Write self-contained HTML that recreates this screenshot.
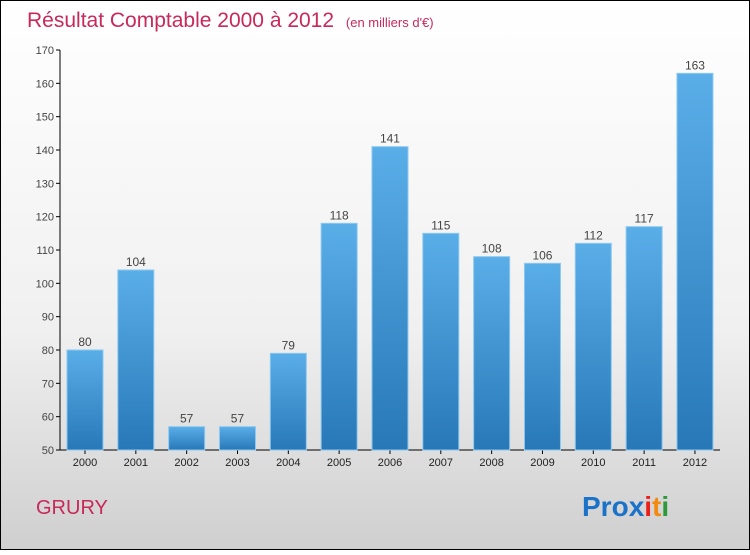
<!DOCTYPE html>
<html><head><meta charset="utf-8"><style>
body{margin:0;width:750px;height:550px;overflow:hidden;font-family:"Liberation Sans",sans-serif}
</style></head><body>
<svg id="chart" width="750" height="550" xmlns="http://www.w3.org/2000/svg">
<defs>
<linearGradient id="bg" x1="0" y1="0" x2="0" y2="1"><stop offset="0" stop-color="#ffffff"/><stop offset="0.6" stop-color="#f0f0f0"/><stop offset="1" stop-color="#cfcfcf"/></linearGradient>
<linearGradient id="bar" x1="0" y1="0" x2="0" y2="1"><stop offset="0" stop-color="#5aaee8"/><stop offset="1" stop-color="#2878b8"/></linearGradient>
</defs>
<rect x="0.5" y="0.5" width="749" height="549" fill="url(#bg)" stroke="#000"/>
<text x="27" y="27" font-size="21" fill="#c8285a">Résultat Comptable 2000 à 2012 <tspan font-size="13" dx="6">(en milliers d'€)</tspan></text>
<g id="axes"></g>
<g id="bars"></g>
<text x="36" y="514" font-size="20" fill="#c8285a">GRURY</text>
<text x="582" y="516" font-size="28" font-weight="bold"><tspan fill="#1a73c8">Pro</tspan><tspan fill="#1a73c8">x</tspan><tspan fill="#e8221b">i</tspan><tspan fill="#f08a10">t</tspan><tspan fill="#2a9a3a">i</tspan></text>
</svg>
<script>
const categories=["2000","2001","2002","2003","2004","2005","2006","2007","2008","2009","2010","2011","2012"];
const values=[80,104,57,57,79,118,141,115,108,106,112,117,163];
const yTicks=[50,60,70,80,90,100,110,120,130,140,150,160,170];
const NS="http://www.w3.org/2000/svg";
const y=v=>450-(v-50)*400/120;
const x=i=>85+i*50.83;
function mk(t,a,p){const e=document.createElementNS(NS,t);for(const k in a)e.setAttribute(k,a[k]);p.appendChild(e);return e;}
const ax=document.getElementById('axes'),bg=document.getElementById('bars');
const yl=mk('line',{x1:60,y1:50,x2:60,y2:450,stroke:'#000'},ax);


const xl=mk('line',{x1:60,y1:450,x2:720,y2:450,stroke:'#000'},ax);


yTicks.forEach(t=>{
 mk('line',{x1:56,y1:y(t),x2:60,y2:y(t),stroke:'#000'},ax);
 const tx=mk('text',{x:54,y:y(t)+4,'text-anchor':'end','font-size':11,fill:'#444'},ax);
 tx.textContent=t;
 
 
});
values.forEach((v,i)=>{
 const r=mk('rect',{x:x(i)-18,y:y(v),width:36,height:450-y(v),fill:'url(#bar)',stroke:'#8cc8f0','stroke-width':1},bg);
 
 
 const vl=mk('text',{x:x(i),y:y(v)-4,'text-anchor':'middle','font-size':12,fill:'#444'},bg);
 vl.textContent=v;
 
 
 mk('line',{x1:x(i),y1:450,x2:x(i),y2:454,stroke:'#000'},ax);
 const cl=mk('text',{x:x(i),y:466,'text-anchor':'middle','font-size':11,fill:'#222'},ax);
 cl.textContent=categories[i];
 
 
});
</script>
</body></html>
